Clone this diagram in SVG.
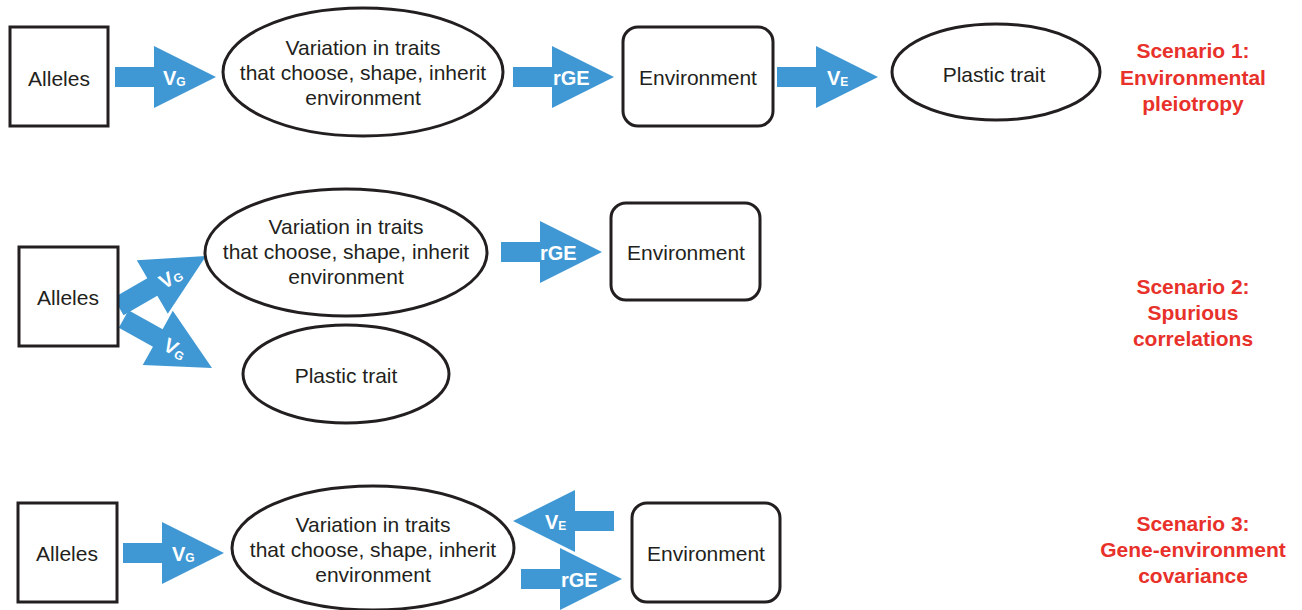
<svg xmlns="http://www.w3.org/2000/svg" xmlns:xlink="http://www.w3.org/1999/xlink" width="1302" height="610" viewBox="0 0 1302 610">
<defs>
<style>
.box{fill:#fff;stroke:#231f20;stroke-width:3}
.txt{font-family:"Liberation Sans",Arial,sans-serif;font-size:21px;fill:#231f20;text-anchor:middle}
.arr{fill:#3f98d4}
.lbl{font-family:"Liberation Sans",Arial,sans-serif;font-size:20px;font-weight:bold;fill:#fff}
.sub{font-size:12px}
.scn{font-family:"Liberation Sans",Arial,sans-serif;font-size:21px;font-weight:bold;fill:#e8312a;text-anchor:middle}
</style>
<path id="arrow" d="M-101,-10 H-62 V-31 L0,0 L-62,31 V10 H-101 Z"/>
</defs>
<rect width="1302" height="610" fill="#fff"/>

<g id="connectors">
  <!-- Scenario 1 -->
  <use xlink:href="#arrow" class="arr" transform="translate(216,77)"/>
  <text class="lbl" x="163" y="85">V<tspan class="sub" dy="1">G</tspan></text>
  <use xlink:href="#arrow" class="arr" transform="translate(614,77)"/>
  <text class="lbl" x="553" y="85">rGE</text>
  <use xlink:href="#arrow" class="arr" transform="translate(878,77)"/>
  <text class="lbl" x="827" y="85">V<tspan class="sub" dy="1">E</tspan></text>
  <!-- Scenario 2 -->
  <g transform="translate(206,256) rotate(-30)">
    <use xlink:href="#arrow" class="arr"/>
    <text class="lbl" x="-53" y="8">V<tspan class="sub" dy="1">G</tspan></text>
  </g>
  <g transform="translate(212,368) rotate(29)">
    <use xlink:href="#arrow" class="arr"/>
    <text class="lbl" x="-53" y="8">V<tspan class="sub" dy="1">G</tspan></text>
  </g>
  <use xlink:href="#arrow" class="arr" transform="translate(602,252)"/>
  <text class="lbl" x="540" y="260">rGE</text>
  <!-- Scenario 3 -->
  <use xlink:href="#arrow" class="arr" transform="translate(224,553)"/>
  <text class="lbl" x="172" y="561">V<tspan class="sub" dy="1">G</tspan></text>
  <use xlink:href="#arrow" class="arr" transform="translate(513,521) scale(-1,1)"/>
  <text class="lbl" x="545" y="529">V<tspan class="sub" dy="1">E</tspan></text>
  <use xlink:href="#arrow" class="arr" transform="translate(622,579)"/>
  <text class="lbl" x="561" y="587">rGE</text>
</g>

<!-- Scenario 1 nodes -->
<g id="s1-alleles">
  <rect class="box" x="10" y="27" width="98" height="99"/>
  <text class="txt" x="59" y="86">Alleles</text>
</g>
<g id="s1-traits">
  <ellipse class="box" cx="363" cy="72" rx="140" ry="64"/>
  <text class="txt" x="363" y="55">Variation in traits</text>
  <text class="txt" x="363" y="80">that choose, shape, inherit</text>
  <text class="txt" x="363" y="105">environment</text>
</g>
<g id="s1-environment">
  <rect class="box" x="623" y="27" width="150" height="99" rx="15"/>
  <text class="txt" x="698" y="85">Environment</text>
</g>
<g id="s1-plastic">
  <ellipse class="box" cx="996" cy="72" rx="104" ry="48"/>
  <text class="txt" x="994" y="82">Plastic trait</text>
</g>
<g id="s1-title">
  <text class="scn" x="1193" y="58">Scenario 1:</text>
  <text class="scn" x="1193" y="85">Environmental</text>
  <text class="scn" x="1193" y="111">pleiotropy</text>
</g>

<!-- Scenario 2 nodes -->
<g id="s2-alleles">
  <rect class="box" x="19" y="247" width="99" height="99"/>
  <text class="txt" x="68" y="305">Alleles</text>
</g>
<g id="s2-traits">
  <ellipse class="box" cx="346" cy="252.5" rx="141" ry="63.5"/>
  <text class="txt" x="346" y="234">Variation in traits</text>
  <text class="txt" x="346" y="259">that choose, shape, inherit</text>
  <text class="txt" x="346" y="284">environment</text>
</g>
<g id="s2-plastic">
  <ellipse class="box" cx="346" cy="374" rx="103" ry="49"/>
  <text class="txt" x="346" y="383">Plastic trait</text>
</g>
<g id="s2-environment">
  <rect class="box" x="611" y="203" width="149" height="97" rx="15"/>
  <text class="txt" x="686" y="260">Environment</text>
</g>
<g id="s2-title">
  <text class="scn" x="1193" y="294">Scenario 2:</text>
  <text class="scn" x="1193" y="320">Spurious</text>
  <text class="scn" x="1193" y="346">correlations</text>
</g>

<!-- Scenario 3 nodes -->
<g id="s3-alleles">
  <rect class="box" x="18" y="503" width="99" height="99"/>
  <text class="txt" x="67" y="561">Alleles</text>
</g>
<g id="s3-traits">
  <ellipse class="box" cx="373" cy="548" rx="141" ry="62"/>
  <text class="txt" x="373" y="532">Variation in traits</text>
  <text class="txt" x="373" y="557">that choose, shape, inherit</text>
  <text class="txt" x="373" y="582">environment</text>
</g>
<g id="s3-environment">
  <rect class="box" x="632" y="503" width="148" height="99" rx="15"/>
  <text class="txt" x="706" y="561">Environment</text>
</g>
<g id="s3-title">
  <text class="scn" x="1193" y="531">Scenario 3:</text>
  <text class="scn" x="1193" y="557">Gene-environment</text>
  <text class="scn" x="1193" y="583">covariance</text>
</g>
</svg>
